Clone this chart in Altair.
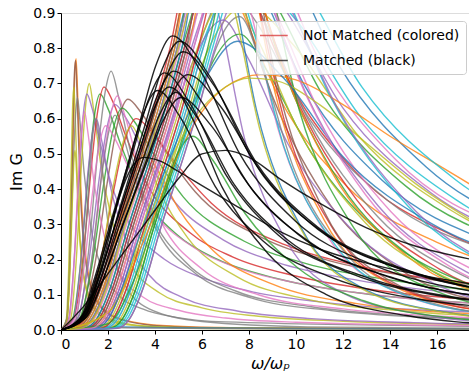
import altair as alt
import pandas as pd

TAB = {"blue": "#1f77b4", "orange": "#ff7f0e", "green": "#2ca02c", "red": "#d62728",
       "purple": "#9467bd", "brown": "#8c564b", "pink": "#e377c2", "gray": "#7f7f7f",
       "olive": "#bcbd22", "cyan": "#17becf"}

# ---- colored curves with low-frequency peaks ----
L_X = [
    [0, 0.256, 0.384, 0.512, 0.589, 0.64, 0.704, 0.832, 1.088, 1.6, 2.56, 4.48, 7.68, 18],
    [0, 0.248, 0.372, 0.496, 0.57, 0.62, 0.682, 0.806, 1.054, 1.55, 2.48, 4.34, 7.44, 18],
    [0, 0.22, 0.33, 0.44, 0.506, 0.55, 0.605, 0.715, 0.935, 1.375, 2.2, 3.85, 6.6, 18],
    [0, 0.245, 0.385, 0.525, 0.63, 0.7, 0.805, 0.98, 1.26, 1.75, 2.45, 3.5, 4.9, 7, 18],
    [0, 0.42, 0.66, 0.9, 1.08, 1.2, 1.38, 1.68, 2.16, 3, 4.2, 6, 8.4, 12, 18],
    [0, 0.33, 0.55, 0.77, 0.935, 1.1, 1.32, 1.65, 2.2, 3.3, 4.4, 6.05, 8.25, 11, 18],
    [0, 0.5, 0.83, 1.16, 1.41, 1.66, 1.99, 2.49, 3.32, 4.98, 6.64, 9.13, 12.45, 16.6, 20],
    [0, 0.55, 0.92, 1.28, 1.56, 1.83, 2.2, 2.75, 3.66, 5.49, 7.32, 10.07, 13.73, 18.3],
    [0, 0.75, 1.17, 1.6, 1.92, 2.13, 2.45, 2.98, 3.83, 5.33, 7.46, 10.65, 14.91, 21.3],
    [0, 0.69, 1.15, 1.61, 1.96, 2.3, 2.76, 3.45, 4.6, 6.9, 9.2, 12.65, 17.25, 23],
    [0, 0.84, 1.32, 1.8, 2.16, 2.4, 2.76, 3.36, 4.32, 6, 8.4, 12, 16.8, 24],
    [0, 0.81, 1.27, 1.73, 2.07, 2.3, 2.65, 3.22, 4.14, 5.75, 8.05, 11.5, 16.1, 23],
    [0, 0.86, 1.43, 2, 2.42, 2.85, 3.42, 4.28, 5.7, 8.55, 11.4, 15.68, 21.4],
    [0, 0.24, 0.36, 0.48, 0.552, 0.6, 0.66, 0.78, 1.02, 1.5, 2.4, 4.2, 7.2, 18],
    [0, 0.35, 0.55, 0.75, 0.9, 1, 1.15, 1.4, 1.8, 2.5, 3.5, 5, 7, 10, 18],
    [0, 0.78, 1.3, 1.82, 2.21, 2.6, 3.12, 3.9, 5.2, 7.8, 10.4, 14.3, 19.5],
    [0, 0.96, 1.6, 2.24, 2.72, 3.2, 3.84, 4.8, 6.4, 9.6, 12.8, 17.6],
    [0, 0.525, 0.825, 1.125, 1.35, 1.5, 1.725, 2.1, 2.7, 3.75, 5.25, 7.5, 10.5, 15, 20],
    [0, 0.5, 1, 2, 4, 8, 12, 18],
    [0, 0.3, 0.6, 1, 2, 5, 10, 18],
    [0, 0.6, 0.9, 1.2, 1.38, 1.5, 1.65, 1.95, 2.55, 3.75, 6, 10.5, 18],
    [0, 1.05, 1.65, 2.25, 2.7, 3, 3.45, 4.2, 5.4, 7.5, 10.5, 15, 21],
    [0, 0.57, 0.95, 1.33, 1.62, 1.9, 2.28, 2.85, 3.8, 5.7, 7.6, 10.45, 14.25, 19],
    [0, 1.26, 1.98, 2.7, 3.24, 3.6, 4.14, 5.04, 6.48, 9, 12.6, 18],
]
L_Y = [
    [0, 0.031, 0.2, 0.539, 0.732, 0.77, 0.678, 0.424, 0.193, 0.077, 0.031, 0.012, 0.006, 0.003],
    [0, 0.031, 0.199, 0.536, 0.727, 0.765, 0.673, 0.421, 0.191, 0.077, 0.031, 0.011, 0.006, 0.003],
    [0, 0.028, 0.179, 0.483, 0.656, 0.69, 0.607, 0.38, 0.173, 0.069, 0.028, 0.01, 0.006, 0.003],
    [0, 0.033, 0.198, 0.475, 0.62, 0.66, 0.594, 0.449, 0.297, 0.172, 0.099, 0.059, 0.036, 0.023, 0.01],
    [0, 0.035, 0.21, 0.504, 0.658, 0.7, 0.63, 0.476, 0.315, 0.182, 0.105, 0.063, 0.039, 0.025, 0.015],
    [0, 0.034, 0.188, 0.442, 0.603, 0.67, 0.63, 0.536, 0.402, 0.268, 0.201, 0.147, 0.107, 0.08, 0.05],
    [0, 0.034, 0.188, 0.442, 0.603, 0.67, 0.63, 0.536, 0.402, 0.268, 0.201, 0.147, 0.107, 0.08, 0.07],
    [0, 0.035, 0.193, 0.455, 0.621, 0.69, 0.649, 0.552, 0.414, 0.276, 0.207, 0.152, 0.11, 0.083],
    [0, 0.037, 0.221, 0.529, 0.691, 0.735, 0.662, 0.5, 0.331, 0.191, 0.11, 0.066, 0.04, 0.026],
    [0, 0.032, 0.179, 0.422, 0.576, 0.64, 0.602, 0.512, 0.384, 0.256, 0.192, 0.141, 0.102, 0.077],
    [0, 0.033, 0.2, 0.479, 0.625, 0.665, 0.599, 0.452, 0.299, 0.173, 0.1, 0.06, 0.037, 0.023],
    [0, 0.031, 0.183, 0.439, 0.573, 0.61, 0.549, 0.415, 0.275, 0.159, 0.092, 0.055, 0.034, 0.021],
    [0, 0.033, 0.183, 0.432, 0.59, 0.655, 0.616, 0.524, 0.393, 0.262, 0.197, 0.144, 0.105],
    [0, 0.02, 0.133, 0.357, 0.485, 0.51, 0.449, 0.281, 0.128, 0.051, 0.02, 0.008, 0.004, 0.002],
    [0, 0.031, 0.186, 0.446, 0.583, 0.62, 0.558, 0.422, 0.279, 0.161, 0.093, 0.056, 0.034, 0.022, 0.012],
    [0, 0.032, 0.176, 0.416, 0.567, 0.63, 0.592, 0.504, 0.378, 0.252, 0.189, 0.139, 0.101],
    [0, 0.03, 0.168, 0.396, 0.54, 0.6, 0.564, 0.48, 0.36, 0.24, 0.18, 0.132],
    [0, 0.03, 0.18, 0.432, 0.564, 0.6, 0.54, 0.408, 0.27, 0.156, 0.09, 0.054, 0.033, 0.021, 0.015],
    [0, 0.004, 0.01, 0.009, 0.007, 0.005, 0.004, 0.003],
    [0, 0.01, 0.014, 0.012, 0.008, 0.005, 0.003, 0.002],
    [0, 0.024, 0.156, 0.42, 0.57, 0.6, 0.528, 0.33, 0.15, 0.06, 0.024, 0.009, 0.005],
    [0, 0.029, 0.174, 0.418, 0.545, 0.58, 0.522, 0.394, 0.261, 0.151, 0.087, 0.052, 0.032],
    [0, 0.029, 0.162, 0.383, 0.522, 0.58, 0.545, 0.464, 0.348, 0.232, 0.174, 0.128, 0.093, 0.07],
    [0, 0.025, 0.15, 0.36, 0.47, 0.5, 0.45, 0.34, 0.225, 0.13, 0.075, 0.045],
]
L_COLORS = ["orange", "brown", "olive", "gray", "olive", "purple", "green", "red", "gray",
            "purple", "pink", "gray", "brown", "olive", "pink", "green", "red", "purple",
            "blue", "gray", "gray", "olive", "pink", "orange"]

# ---- colored curves with high peaks (clipped at 0.9) ----
B_X = [
    [0, 0.5, 1, 1.6, 2.3, 3.4, 3.95, 4.6, 6.0, 7.5, 9.6, 12.6, 16.8, 22.2],
    [0, 0.7, 1.2, 1.8, 2.5, 3.6, 4.15, 4.8, 6.5, 8.13, 10.4, 13.65, 18.2],
    [0, 1.0, 1.5, 2.1, 2.8, 3.9, 4.45, 5.1, 7.0, 8.75, 11.2, 14.7, 19.6],
    [0, 1.4, 1.9, 2.5, 3.2, 4.3, 4.85, 5.5, 7.5, 9.38, 12, 15.75, 21],
    [0, 1.8, 2.3, 2.9, 3.6, 4.7, 5.25, 5.9, 8.0, 10, 12.8, 16.8, 22.4],
    [0, 0.9, 1.4, 2.0, 2.7, 3.8, 4.35, 5.0, 6.8, 8.5, 10.88, 14.28, 19.04],
    [0, 1.2, 1.7, 2.3, 3.0, 4.1, 4.65, 5.3, 6.6, 8.25, 10.56, 13.86, 18.48],
    [0, 2.0, 2.5, 3.1, 3.8, 4.9, 5.45, 6.1, 7.9, 9.88, 12.64, 16.59, 22.12],
    [0, 1.1, 1.6, 2.2, 2.9, 4.0, 4.55, 5.2, 7.4, 9.25, 11.84, 15.54, 20.72],
    [0, 0.6, 1.1, 1.7, 2.4, 3.5, 4.05, 4.7, 5.8, 7.25, 9.28, 12.18, 16.24, 21.46],
    [0, 0.6, 1.1, 1.7, 2.4, 3.5, 4.05, 4.7, 6.2, 7.13, 8.68, 11.16, 14.26, 18.6],
    [0, 0.8, 1.3, 1.9, 2.6, 3.7, 4.25, 4.9, 6.6, 7.59, 9.24, 11.88, 15.18, 19.8],
    [0, 1.1, 1.6, 2.2, 2.9, 4.0, 4.55, 5.2, 7.0, 8.05, 9.8, 12.6, 16.1, 21],
    [0, 1.5, 2.0, 2.6, 3.3, 4.4, 4.95, 5.6, 7.5, 8.63, 10.5, 13.5, 17.25, 22.5],
    [0, 1.9, 2.4, 3.0, 3.7, 4.8, 5.35, 6.0, 7.8, 8.97, 10.92, 14.04, 17.94],
    [0, 1.7, 2.2, 2.8, 3.5, 4.6, 5.15, 5.8, 7.5, 8.63, 10.5, 13.5, 17.25, 22.5],
    [0, 1.4, 1.9, 2.5, 3.2, 4.3, 4.85, 5.6, 6.9, 7.94, 9.66, 12.42, 15.87, 20.7],
    [0, 2.1, 2.6, 3.2, 3.9, 5.0, 5.55, 6.3, 7.6, 8.74, 10.64, 13.68, 17.48],
    [0, 0.7, 1.2, 1.8, 2.5, 3.6, 4.15, 4.8, 6.4, 7.36, 8.96, 11.52, 14.72, 19.2],
    [0, 2.3, 2.8, 3.4, 4.1, 5.2, 5.75, 6.4, 8.2, 9.43, 11.48, 14.76, 18.86],
    [0, 1.6, 2.1, 2.7, 3.4, 4.5, 5.05, 5.7, 7.2, 8.28, 10.08, 12.96, 16.56, 21.6],
    [0, 1.0, 1.5, 2.1, 2.8, 3.9, 4.45, 5.1, 6.4, 7.17, 8.32, 10.24, 12.8, 16.64, 22],
    [0, 1.3, 1.8, 2.4, 3.1, 4.2, 4.75, 5.4, 7.0, 7.84, 9.1, 11.2, 14, 18.2],
    [0, 1.7, 2.2, 2.8, 3.5, 4.6, 5.15, 5.8, 7.3, 8.18, 9.49, 11.68, 14.6, 18.98],
    [0, 2.1, 2.6, 3.2, 3.9, 5.0, 5.55, 6.2, 7.8, 8.74, 10.14, 12.48, 15.6, 20.28],
    [0, 1.5, 2.0, 2.6, 3.3, 4.4, 4.95, 5.6, 7.1, 7.95, 9.23, 11.36, 14.2, 18.46],
    [0, 0.8, 1.3, 1.9, 2.6, 3.7, 4.25, 4.9, 6.0, 6.72, 7.8, 9.6, 12, 15.6, 20],
    [0, 1.9, 2.4, 3.0, 3.7, 4.8, 5.35, 6.0, 7.3, 8.18, 9.49, 11.68, 14.6, 18.98],
    [0, 2.4, 2.9, 3.5, 4.2, 5.3, 5.85, 6.6, 7.6, 8.51, 9.88, 12.16, 15.2, 19.76],
    [0, 1.2, 1.7, 2.3, 3.0, 4.1, 4.65, 5.3, 7.0, 7.84, 9.1, 11.2, 14, 18.2],
    [0, 2, 3.5, 5, 6, 7, 8.5, 10, 12, 14, 16, 18],
    [0, 2, 3.5, 5, 6, 7, 8, 9, 11, 13, 15, 18],
    [0, 1.5, 2.0, 2.6, 3.3, 4.4, 5.2, 6.2, 7.5, 9.38, 12, 15.75, 21],
    [0, 1.96, 3.08, 4.2, 5.04, 5.6, 6.44, 7.84, 10.08, 12.88, 16.8, 20],
    [0, 2.2, 2.7, 3.3, 4.0, 5.1, 5.65, 6.3, 8.0, 10, 12.8, 16.8, 22.4],
    [0, 1.3, 1.8, 2.4, 3.1, 4.2, 4.75, 5.4, 7.2, 8.28, 10.08, 12.96, 16.56, 21.6],
    [0, 2.4, 2.9, 3.5, 4.2, 5.3, 5.85, 6.5, 8.4, 9.66, 11.76, 15.12, 19.32],
    [0, 0.85, 1.35, 1.95, 2.65, 3.75, 4.3, 4.95, 6.5, 7.28, 8.45, 10.4, 13, 16.9, 21],
]
B_Y = [
    [0, .005, .03, .12, .28, .51, .63, .79, 1.2, 1.056, 0.72, 0.444, 0.264, 0.156],
    [0, .005, .03, .12, .28, .51, .63, .79, 1.15, 1.012, 0.69, 0.426, 0.253],
    [0, .005, .03, .12, .28, .51, .63, .79, 1.1, 0.968, 0.66, 0.407, 0.242],
    [0, .005, .03, .12, .28, .51, .63, .79, 1.05, 0.924, 0.63, 0.389, 0.231],
    [0, .005, .03, .12, .28, .51, .63, .79, 1.0, 0.88, 0.6, 0.37, 0.22],
    [0, .005, .03, .12, .28, .51, .63, .79, 1.3, 1.144, 0.78, 0.481, 0.286],
    [0, .005, .03, .12, .28, .51, .63, .79, 1.0, 0.88, 0.6, 0.37, 0.22],
    [0, .005, .03, .12, .28, .51, .63, .77, 0.92, 0.81, 0.552, 0.34, 0.202],
    [0, .005, .03, .12, .28, .51, .63, .79, 1.25, 1.1, 0.75, 0.463, 0.275],
    [0, .005, .03, .12, .28, .51, .63, .79, 1.1, 0.968, 0.66, 0.407, 0.242, 0.143],
    [0, .005, .03, .12, .28, .51, .63, .79, 1.2, 1.056, 0.72, 0.384, 0.18, 0.072],
    [0, .005, .03, .12, .28, .51, .63, .79, 1.3, 1.144, 0.78, 0.416, 0.195, 0.078],
    [0, .005, .03, .12, .28, .51, .63, .79, 1.15, 1.012, 0.69, 0.368, 0.173, 0.069],
    [0, .005, .03, .12, .28, .51, .63, .79, 1.1, 0.968, 0.66, 0.352, 0.165, 0.066],
    [0, .005, .03, .12, .28, .51, .63, .79, 1.05, 0.924, 0.63, 0.336, 0.158],
    [0, .005, .03, .12, .28, .51, .63, .79, 1.0, 0.88, 0.6, 0.32, 0.15, 0.06],
    [0, .005, .03, .12, .28, .5, .62, .76, 0.88, 0.774, 0.528, 0.282, 0.132, 0.053],
    [0, .005, .03, .12, .28, .5, .61, .74, 0.84, 0.739, 0.504, 0.269, 0.126],
    [0, .005, .03, .12, .28, .51, .63, .79, 1.4, 1.232, 0.84, 0.448, 0.21, 0.084],
    [0, .005, .03, .12, .28, .51, .63, .79, 1.1, 0.968, 0.66, 0.352, 0.165],
    [0, .005, .03, .12, .28, .51, .63, .78, 0.95, 0.836, 0.57, 0.304, 0.143, 0.057],
    [0, .005, .03, .12, .28, .51, .63, .79, 1.2, 1.02, 0.624, 0.288, 0.12, 0.048, 0.02],
    [0, .005, .03, .12, .28, .51, .63, .79, 1.3, 1.105, 0.676, 0.312, 0.13, 0.052],
    [0, .005, .03, .12, .28, .51, .63, .79, 1.15, 0.978, 0.598, 0.276, 0.115, 0.046],
    [0, .005, .03, .12, .28, .51, .63, .79, 1.2, 1.02, 0.624, 0.288, 0.12, 0.048],
    [0, .005, .03, .12, .28, .51, .63, .79, 1.1, 0.935, 0.572, 0.264, 0.11, 0.044],
    [0, .005, .03, .12, .28, .51, .63, .79, 1.05, 0.893, 0.546, 0.252, 0.105, 0.042, 0.015],
    [0, .005, .03, .12, .28, .51, .63, .79, 1.0, 0.85, 0.52, 0.24, 0.1, 0.04],
    [0, .005, .03, .12, .28, .51, .63, .8, 0.89, 0.757, 0.463, 0.214, 0.089, 0.036],
    [0, .005, .03, .12, .28, .51, .63, .79, 1.4, 1.19, 0.728, 0.336, 0.14, 0.056],
    [0, 0.05, 0.25, 0.5, 0.62, 0.69, 0.725, 0.71, 0.64, 0.55, 0.47, 0.39],
    [0, 0.05, 0.27, 0.53, 0.63, 0.69, 0.715, 0.71, 0.64, 0.53, 0.42, 0.29],
    [0, .005, .03, .12, .26, .45, .58, .72, 0.82, 0.722, 0.492, 0.303, 0.18],
    [0, 0.017, 0.138, 0.358, 0.512, 0.55, 0.484, 0.33, 0.176, 0.083, 0.033, 0.02],
    [0, .005, .03, .12, .28, .51, .63, .79, 1.15, 1.012, 0.69, 0.426, 0.253],
    [0, .005, .03, .12, .28, .51, .63, .79, 1.2, 1.056, 0.72, 0.384, 0.18, 0.072],
    [0, .005, .03, .12, .28, .51, .63, .79, 1.05, 0.924, 0.63, 0.336, 0.158],
    [0, .005, .03, .12, .28, .51, .63, .79, 1.1, 0.935, 0.572, 0.264, 0.11, 0.044, 0.02],
]
B_COLORS = ["red", "blue", "green", "purple", "cyan", "pink", "gray", "olive", "blue",
            "orange", "brown", "green", "red", "purple", "pink", "gray", "purple", "green",
            "orange", "cyan", "olive", "blue", "orange", "red", "green", "pink", "purple",
            "cyan", "gray", "brown", "orange", "olive", "blue", "green", "cyan", "pink",
            "purple", "olive"]

# ---- matched (black) curves ----
K_X = [
    [0, 0.95, 1.66, 2.38, 3.33, 4.04, 4.75, 5.94, 7.6, 9.98, 13.3, 17.58],
    [0, 1.01, 1.77, 2.53, 3.54, 4.29, 5.05, 6.31, 8.08, 10.61, 14.14, 18.69],
    [0, 1.04, 1.82, 2.6, 3.64, 4.42, 5.2, 6.5, 8.32, 10.92, 14.56, 19.24],
    [0, 0.96, 1.68, 2.4, 3.36, 4.08, 4.8, 6, 7.68, 10.08, 13.44, 17.76],
    [0, 1.08, 1.89, 2.7, 3.78, 4.59, 5.4, 6.75, 8.64, 11.34, 15.12, 19.98],
    [0, 0.82, 1.44, 2.05, 2.87, 3.49, 4.1, 5.13, 6.56, 8.61, 11.48, 15.17, 20],
    [0, 0.92, 1.61, 2.3, 3.22, 3.91, 4.6, 5.75, 7.36, 9.66, 12.88, 17.02, 21],
    [0, 0.98, 1.72, 2.45, 3.43, 4.17, 4.9, 5.64, 6.86, 8.82, 11.27, 14.7, 19],
    [0, 1.02, 1.79, 2.55, 3.57, 4.34, 5.1, 6.38, 8.16, 10.71, 14.28, 18.87],
    [0, 1, 2, 3, 4, 5, 6, 7, 8, 9.3, 11, 13, 15, 17.5],
    [0, 1, 1.8, 2.5, 3, 3.5, 4.2, 5, 6, 7.5, 9.3, 11, 13, 15, 17.5],
    [0, 0.88, 1.54, 2.2, 3.08, 3.74, 4.4, 5.5, 7.04, 9.24, 12.32, 16.28, 20],
]
K_Y = [
    [0, 0.042, 0.184, 0.359, 0.585, 0.752, 0.835, 0.735, 0.501, 0.309, 0.184, 0.109],
    [0, 0.041, 0.18, 0.353, 0.574, 0.738, 0.82, 0.722, 0.492, 0.303, 0.18, 0.107],
    [0, 0.04, 0.174, 0.34, 0.553, 0.711, 0.79, 0.695, 0.474, 0.292, 0.174, 0.103],
    [0, 0.037, 0.162, 0.316, 0.515, 0.662, 0.735, 0.647, 0.441, 0.272, 0.162, 0.096],
    [0, 0.036, 0.16, 0.312, 0.508, 0.653, 0.725, 0.638, 0.435, 0.268, 0.16, 0.094],
    [0, 0.034, 0.15, 0.292, 0.476, 0.612, 0.68, 0.598, 0.408, 0.252, 0.15, 0.088, 0.06],
    [0, 0.035, 0.152, 0.297, 0.483, 0.621, 0.69, 0.607, 0.414, 0.255, 0.152, 0.09, 0.07],
    [0, 0.034, 0.149, 0.29, 0.473, 0.608, 0.675, 0.594, 0.405, 0.216, 0.101, 0.041, 0.015],
    [0, 0.033, 0.145, 0.284, 0.462, 0.594, 0.66, 0.581, 0.396, 0.244, 0.145, 0.086],
    [0, 0.07, 0.16, 0.25, 0.34, 0.43, 0.5, 0.51, 0.49, 0.43, 0.36, 0.29, 0.24, 0.2],
    [0, 0.05, 0.2, 0.38, 0.46, 0.49, 0.48, 0.45, 0.41, 0.35, 0.28, 0.23, 0.19, 0.16, 0.13],
    [0, 0.037, 0.161, 0.314, 0.511, 0.657, 0.73, 0.642, 0.438, 0.27, 0.161, 0.095, 0.07],
]

LEGEND_LABELS = ["Not Matched (colored)", "Matched (black)"]
LEGEND_COLORS = ["#d62728", "#000000"]
X_TICKS = [0, 2, 4, 6, 8, 10, 12, 14, 16]
Y_TICKS = [0.0, 0.1, 0.2, 0.3, 0.4, 0.5, 0.6, 0.7, 0.8, 0.9]

rows = []
cid = 0
for xs_, ys_, cn in list(zip(L_X, L_Y, L_COLORS)) + list(zip(B_X, B_Y, B_COLORS)):
    for i, (a, b) in enumerate(zip(xs_, ys_)):
        rows.append({"cid": cid, "i": i, "x": a, "y": b, "c": TAB[cn]})
    cid += 1
df_col = pd.DataFrame(rows)

rows = []
for k, (xs_, ys_) in enumerate(zip(K_X, K_Y)):
    for i, (a, b) in enumerate(zip(xs_, ys_)):
        rows.append({"cid": k, "i": i, "x": a, "y": b})
df_blk = pd.DataFrame(rows)

df_leg = pd.DataFrame({"label": [LEGEND_LABELS[0]] * 2 + [LEGEND_LABELS[1]] * 2,
                       "x": [0, 1, 0, 1], "y": [-1, -1, -1, -1]})

FONT = "DejaVu Sans"
xsc = alt.Scale(domain=[0, 17.36], nice=False, zero=False)
ysc = alt.Scale(domain=[0, 0.9], nice=False, zero=False)

xax = alt.Axis(values=X_TICKS, grid=False, labelFontSize=14, labelFont=FONT, labelColor="#000",
               tickSize=4, tickColor="#000", domainColor="#000", labelPadding=3,
               labelOverlap=False,
               title="ω/ωₚ", titleFont=FONT, titleFontSize=16, titleFontStyle="italic",
               titleFontWeight="normal", titleColor="#000", titlePadding=4, titleX=209)
yax = alt.Axis(values=Y_TICKS, format=".1f", grid=False, labelFontSize=14, labelFont=FONT,
               labelColor="#000", tickSize=4, tickColor="#000", domainColor="#000", labelPadding=2,
               labelOverlap=False, tickCount=10,
               title="Im G", titleFont=FONT, titleFontSize=16, titleFontWeight="normal",
               titleColor="#000", titlePadding=8)

XENC = alt.X("x:Q", scale=xsc, axis=xax)
YENC = alt.Y("y:Q", scale=ysc, axis=yax)

colored = alt.Chart(df_col).mark_line(clip=True, strokeWidth=1.4, opacity=0.8,
                                      interpolate="monotone").encode(
    x=XENC, y=YENC,
    detail="cid:N",
    order="i:Q",
    color=alt.Color("c:N", scale=None, legend=None),
)

black = alt.Chart(df_blk).mark_line(clip=True, strokeWidth=1.4, opacity=0.85, color="#000000",
                                    interpolate="monotone").encode(
    x=XENC, y=YENC,
    detail="cid:N",
    order="i:Q",
)

legend_layer = alt.Chart(df_leg).mark_line(clip=True, strokeWidth=1.5, opacity=0.7).encode(
    x=XENC, y=YENC,
    color=alt.Color("label:N", scale=alt.Scale(domain=LEGEND_LABELS, range=LEGEND_COLORS),
                    legend=alt.Legend(title=None, orient="none", legendX=195, legendY=8,
                                      symbolType="M-1.4,0H2.3", symbolSize=225,
                                      symbolStrokeWidth=1.5, symbolOpacity=0.7,
                                      labelFontSize=14, labelFont=FONT, labelColor="#000",
                                      fillColor="rgba(255,255,255,0.8)", strokeColor="#cccccc",
                                      cornerRadius=3, padding=6, rowPadding=9,
                                      labelOffset=24)),
)

chart = alt.layer(colored, black, legend_layer).resolve_scale(
    color="independent"
).properties(
    width=408, height=317,
    autosize=alt.AutoSizeParams(type="none"),
    padding={"left": 61, "top": 13, "right": 0, "bottom": 42},
).configure_view(stroke="#444", strokeWidth=1.1).configure(background="white")

chart.save("out.html", embed_options={"renderer": "svg", "actions": False})
